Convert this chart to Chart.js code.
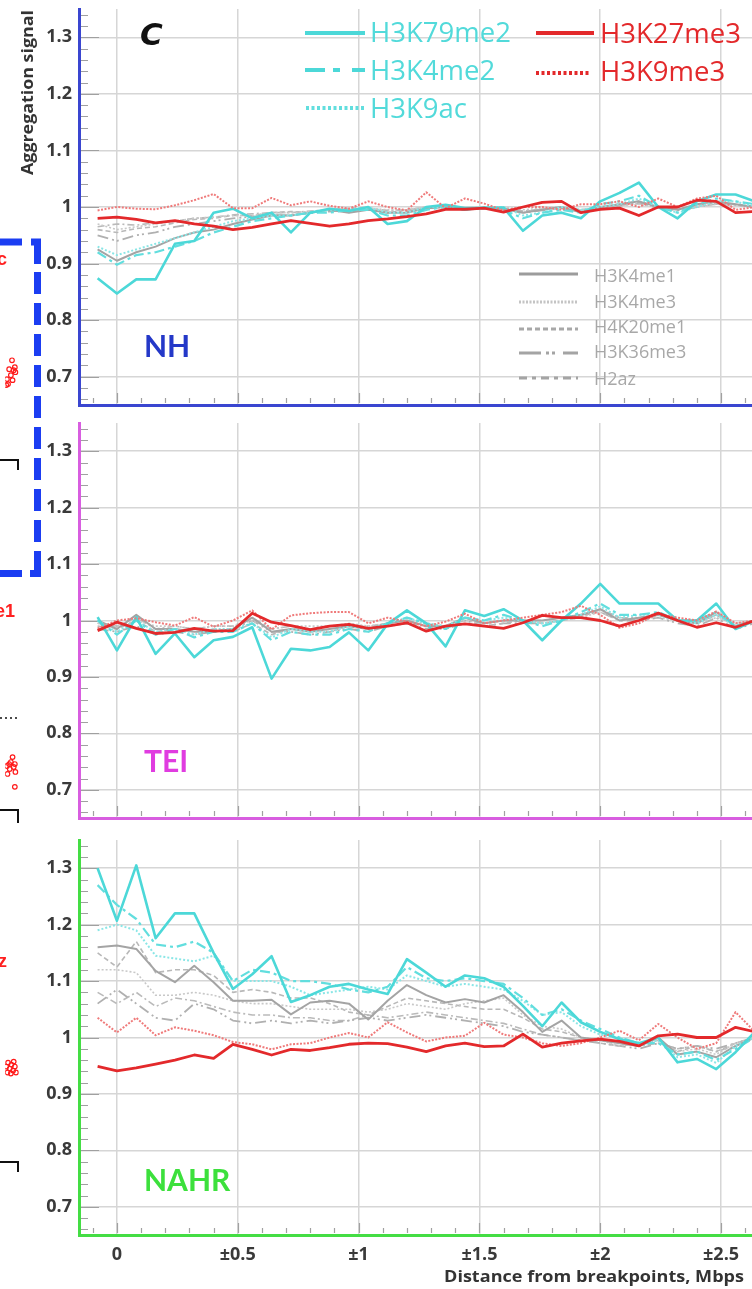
<!DOCTYPE html>
<html>
<head>
<meta charset="utf-8">
<title>Aggregation signal around breakpoints</title>
<script src="https://cdn.jsdelivr.net/npm/chart.js@4.4.1/dist/chart.umd.min.js"></script>
<style>
  html, body { margin: 0; padding: 0; background: #fff; }
  #page { position: relative; width: 752px; height: 1289px; overflow: hidden; background: #fff; }
  canvas { position: absolute; left: 0; }
  #overlay { position: absolute; left: 0; top: 0; }
</style>
</head>
<body>
<div id="page">
  <canvas id="nh" width="752" height="410" style="top:0px"></canvas>
  <canvas id="tei" width="752" height="412" style="top:410px"></canvas>
  <canvas id="nahr" width="752" height="467" style="top:822px"></canvas>
  <canvas id="side" width="24" height="1289" style="top:0px"></canvas>

  <svg id="overlay" width="752" height="1289" xmlns="http://www.w3.org/2000/svg" font-family="'Open Sans', Lato, sans-serif">
    <!-- axis titles and panel letter -->
    <text transform="translate(33,92.5) rotate(-90)" text-anchor="middle" font-weight="700" font-size="16" fill="#333"
          textLength="165" lengthAdjust="spacingAndGlyphs">Aggregation signal</text>
    <text x="744" y="1282" text-anchor="end" font-weight="700" font-size="16.5" fill="#333"
          textLength="300" lengthAdjust="spacingAndGlyphs">Distance from breakpoints, Mbps</text>
    <text x="140" y="45" font-family="'DejaVu Sans', sans-serif" font-style="oblique" font-weight="700" font-size="31" fill="#111">C</text>

    <!-- panel names -->
    <text x="144" y="357" font-family="Lato, sans-serif" font-weight="700" font-size="30" fill="#2438c8">NH</text>
    <text x="144" y="772" font-family="Lato, sans-serif" font-weight="700" font-size="30" fill="#e03ce0">TEI</text>
    <text x="144" y="1191" font-family="Lato, sans-serif" font-weight="700" font-size="30" fill="#3ce03c">NAHR</text>

    <!-- coloured legend -->
    <line x1="305" y1="33" x2="365" y2="33" stroke="#4cd8d8" stroke-width="4"/>
    <text x="370" y="42" font-size="27.5" fill="#52dada">H3K79me2</text>
    <line x1="305" y1="70" x2="365" y2="70" stroke="#4cd8d8" stroke-width="4" stroke-dasharray="20 8 7 12"/>
    <text x="370" y="80" font-size="27.5" fill="#52dada">H3K4me2</text>
    <line x1="306" y1="108" x2="365" y2="108" stroke="#62dede" stroke-width="4" stroke-dasharray="3 2.5"/>
    <text x="370" y="118" font-size="27.5" fill="#52dada">H3K9ac</text>
    <line x1="536" y1="33" x2="594" y2="33" stroke="#e3292b" stroke-width="4"/>
    <text x="600" y="43" font-size="27.5" fill="#e3292b">H3K27me3</text>
    <line x1="536" y1="73" x2="590" y2="73" stroke="#e3292b" stroke-width="4" stroke-dasharray="3 2.5"/>
    <text x="600" y="81" font-size="27.5" fill="#e3292b">H3K9me3</text>

    <!-- grey legend -->
    <line x1="519" y1="274" x2="578" y2="274" stroke="#9c9c9c" stroke-width="3"/>
    <text x="594" y="282" font-size="18" fill="#a8a8a8">H3K4me1</text>
    <line x1="519" y1="302" x2="578" y2="302" stroke="#c4c4c4" stroke-width="3" stroke-dasharray="2 1.5"/>
    <text x="594" y="308" font-size="18" fill="#a8a8a8">H3K4me3</text>
    <line x1="519" y1="329" x2="578" y2="329" stroke="#a8a8a8" stroke-width="3" stroke-dasharray="5 3"/>
    <text x="594" y="333" font-size="18" fill="#a8a8a8">H4K20me1</text>
    <line x1="519" y1="353" x2="578" y2="353" stroke="#a4a4a4" stroke-width="3" stroke-dasharray="22 5 3 3 3 8"/>
    <text x="594" y="358" font-size="18" fill="#a8a8a8">H3K36me3</text>
    <line x1="519" y1="378" x2="578" y2="378" stroke="#a4a4a4" stroke-width="3" stroke-dasharray="8 5 4 5"/>
    <text x="594" y="385" font-size="18" fill="#a8a8a8">H2az</text>

    <!-- neighbouring panel edge: dashed frame, labels and brackets -->
    <g fill="none" stroke="#1b3df2" stroke-width="7">
      <path d="M0 242 H22"/>
      <path d="M31 242 H37.5 V264"/>
      <line x1="37.5" y1="272" x2="37.5" y2="544" stroke-dasharray="22 9"/>
      <path d="M37.5 551 V573.5 H30"/>
      <path d="M22 573.5 H0"/>
    </g>
    <g font-family="'Liberation Sans', Arial, sans-serif" font-weight="700" font-size="18" fill="#ff2020">
      <text x="7" y="265" text-anchor="end">H3K9ac</text>
      <text x="15" y="617" text-anchor="end">H3K4me1</text>
      <text x="7" y="967" text-anchor="end">H2az</text>
    </g>
    <g fill="none" stroke="#111" stroke-width="2">
      <path d="M0 460 H18 V470"/>
      <path d="M0 810 H18 V823"/>
      <path d="M0 1162 H18 V1172"/>
      <line x1="0" y1="718" x2="18" y2="718" stroke-dasharray="2 3" stroke-width="1.5"/>
    </g>
  </svg>
</div>

<script>
// Distance from the breakpoint (Mbp), one bin every 80 kb
const distances = [-0.08, 0, 0.08, 0.16, 0.24, 0.32, 0.40, 0.48, 0.56, 0.64, 0.72, 0.80, 0.88, 0.96, 1.04, 1.12, 1.20, 1.28,
  1.36, 1.44, 1.52, 1.60, 1.68, 1.76, 1.84, 1.92, 2.00, 2.08, 2.16, 2.24, 2.32, 2.40, 2.48, 2.56, 2.64];

const yTickValues = [0.7, 0.8, 0.9, 1, 1.1, 1.2, 1.3];
const xTickValues = [0, 0.5, 1, 1.5, 2, 2.5];
const xTickLabels = ['0', '±0.5', '±1', '±1.5', '±2', '±2.5'];

// ---- NH ----
const nhH3K79me2 = [0.874,0.847,0.872,0.872,0.935,0.94,0.99,0.997,0.98,0.99, 0.955,0.99,0.997,0.993,1.0,0.97,0.975,1.0,1.004,0.998, 0.998,0.999,0.958,0.985,0.99,0.98,1.01,1.025,1.043,1.0, 0.98,1.01,1.022,1.022,1.01];
const nhH3K4me2  = [0.92,0.898,0.915,0.92,0.93,0.94,0.955,0.965,0.975,0.98, 0.985,0.99,0.99,0.995,0.995,0.985,0.985,0.995,1.0,0.995, 1.0,0.995,0.98,0.99,0.995,0.99,1.005,1.01,1.02,1.0, 0.99,1.005,1.015,1.01,1.005];
const nhH3K9ac   = [0.93,0.915,0.925,0.935,0.945,0.955,0.965,0.975,0.98,0.985, 0.985,0.99,0.995,0.995,1.0,0.99,0.99,1.0,1.0,0.995, 1.0,1.0,0.985,0.99,1.0,0.995,1.0,1.005,1.015,1.0, 0.99,1.0,1.01,1.01,1.0];
const nhH3K27me3 = [0.98,0.982,0.978,0.972,0.976,0.97,0.966,0.96,0.964,0.97, 0.976,0.971,0.966,0.97,0.976,0.979,0.983,0.988,0.996,0.996, 0.998,0.991,1.0,1.008,1.01,0.99,0.996,0.998,0.985,1.0, 1.0,1.012,1.01,0.99,0.992];
const nhH3K9me3  = [0.994,1.0,0.997,0.996,1.003,1.012,1.023,0.998,0.998,1.016, 1.003,1.01,1.002,0.997,1.01,1.0,0.994,1.026,0.998,1.015, 1.006,0.994,1.0,1.0,0.995,1.005,1.005,1.01,1.0,1.015, 1.0,1.015,1.02,0.995,1.0];
const nhH3K4me1  = [0.925,0.905,0.92,0.93,0.945,0.955,0.96,0.97,0.978,0.985, 0.985,0.99,0.995,0.99,0.995,0.99,0.99,0.998,1.0,0.995, 0.998,0.997,0.99,0.995,1.0,0.99,1.0,1.005,1.01,1.0, 0.995,1.005,1.01,1.005,1.0];
const nhH3K4me3  = [0.97,0.96,0.965,0.97,0.975,0.98,0.982,0.985,0.985,0.99, 0.99,0.992,0.995,0.995,0.998,0.995,0.995,1.0,1.0,0.998, 1.0,1.0,0.995,0.998,1.0,0.995,1.0,1.003,1.005,1.0, 0.998,1.0,1.005,1.003,1.0];
const nhH4K20me1 = [0.96,0.955,0.962,0.965,0.972,0.978,0.98,0.985,0.985,0.99, 0.992,0.99,0.995,0.998,0.998,0.99,0.995,1.0,1.0,0.996, 1.0,0.998,0.992,0.996,1.0,0.995,1.0,1.005,1.01,1.0, 0.996,1.002,1.008,1.004,1.0];
const nhH3K36me3 = [0.95,0.94,0.95,0.955,0.965,0.97,0.975,0.98,0.983,0.986, 0.985,0.99,0.992,0.995,0.996,0.99,0.992,0.998,1.0,0.995, 0.998,0.996,0.99,0.994,0.998,0.992,0.998,1.002,1.008,0.998, 0.994,1.0,1.006,1.004,1.0];
const nhH2az     = [0.965,0.97,0.968,0.972,0.975,0.98,0.982,0.986,0.988,0.99, 0.99,0.993,0.995,0.996,0.998,0.994,0.995,0.999,1.0,0.997, 0.999,0.998,0.993,0.996,0.999,0.994,0.999,1.003,1.006,0.999, 0.996,1.001,1.005,1.003,1.0];

// ---- TEI ----
const teiH3K79me2 = [1.006,0.947,1.006,0.941,0.977,0.935,0.965,0.971,0.988,0.897, 0.95,0.947,0.953,0.979,0.947,0.994,1.018,0.995,0.954,1.018, 1.008,1.02,1.0,0.965,1.0,1.03,1.065,1.03,1.03,1.03, 1.0,1.0,1.03,0.985,1.0];
const teiH3K4me2  = [1.0,0.975,1.0,0.975,0.985,0.97,0.98,0.98,0.995,0.965, 0.98,0.975,0.975,0.985,0.98,0.995,1.005,0.995,0.985,1.005, 1.0,1.01,1.0,0.99,1.0,1.015,1.03,1.01,1.01,1.015, 1.0,1.0,1.015,0.99,1.0];
const teiH3K9ac   = [1.0,0.98,1.0,0.98,0.985,0.975,0.985,0.985,0.995,0.97, 0.985,0.98,0.98,0.99,0.985,0.995,1.005,0.995,0.99,1.005, 1.0,1.005,1.0,0.995,1.0,1.01,1.025,1.005,1.01,1.01, 1.0,0.995,1.01,0.99,1.0];
const teiH3K27me3 = [0.982,0.997,0.986,0.977,0.979,0.986,0.981,0.982,1.013,0.997, 0.991,0.984,0.99,0.993,0.986,0.99,0.996,0.981,0.99,0.994, 0.99,0.986,0.996,1.009,1.005,1.005,1.0,0.99,1.0,1.013, 1.0,0.988,0.996,0.988,1.0];
const teiH3K9me3  = [0.986,1.0,1.004,0.997,0.991,1.006,0.989,1.0,1.018,0.984, 1.009,1.013,1.015,1.015,0.995,1.005,0.998,0.99,0.998,1.012, 0.995,1.0,1.005,1.01,1.015,1.026,1.01,0.987,0.995,1.012, 1.005,1.0,1.016,0.995,1.0];
const teiH3K4me1  = [1.0,0.985,1.01,0.985,0.985,0.98,0.98,0.985,1.005,0.98, 0.985,0.98,0.985,0.99,0.985,0.995,1.0,0.99,0.99,1.005, 0.995,1.0,1.0,1.0,1.005,1.01,1.02,1.0,1.005,1.01, 1.0,0.995,1.015,0.99,1.0];
const teiH3K4me3  = [0.995,0.99,1.0,0.99,0.99,0.985,0.99,0.99,1.0,0.985, 0.99,0.99,0.99,0.995,0.99,0.995,1.0,0.995,0.99,1.0, 0.995,1.0,1.0,0.995,1.0,1.005,1.015,1.0,1.005,1.005, 1.0,0.995,1.005,0.995,1.0];
const teiH4K20me1 = [0.99,0.985,1.0,0.98,0.985,0.98,0.985,0.98,0.995,0.975, 0.985,0.985,0.98,0.99,0.985,0.99,0.995,0.99,0.985,0.995, 0.99,0.995,1.0,0.995,1.0,1.005,1.02,1.005,1.0,1.01, 1.0,0.995,1.01,0.99,1.0];
const teiH3K36me3 = [0.985,0.98,0.99,0.975,0.98,0.975,0.98,0.985,1.0,0.98, 0.98,0.975,0.98,0.985,0.98,0.99,0.995,0.985,0.985,1.0, 0.99,0.995,0.995,0.995,1.0,1.01,1.015,1.0,1.0,1.005, 0.995,0.99,1.005,0.985,0.995];
const teiH2az     = [0.995,0.99,1.005,0.985,0.99,0.985,0.99,0.99,1.005,0.985, 0.99,0.985,0.99,0.99,0.99,0.995,1.0,0.99,0.99,1.0, 0.995,1.0,1.0,1.0,1.005,1.01,1.02,1.005,1.005,1.01, 1.0,0.995,1.01,0.99,1.0];

// ---- NAHR ----
const nahrH3K79me2 = [1.30,1.207,1.305,1.176,1.22,1.22,1.15,1.086,1.112,1.144, 1.063,1.075,1.09,1.095,1.085,1.077,1.139,1.115,1.09,1.11, 1.105,1.09,1.056,1.02,1.062,1.027,1.01,0.997,0.99,1.0, 0.956,0.962,0.944,0.974,1.01];
const nahrH3K4me2  = [1.27,1.235,1.21,1.165,1.16,1.17,1.15,1.10,1.12,1.115, 1.10,1.10,1.095,1.085,1.08,1.09,1.125,1.105,1.10,1.105, 1.10,1.095,1.07,1.04,1.05,1.03,1.015,1.0,0.99,0.99, 0.97,0.975,0.96,0.98,1.0];
const nahrH3K9ac   = [1.19,1.20,1.19,1.145,1.14,1.135,1.145,1.10,1.10,1.10, 1.09,1.075,1.08,1.085,1.09,1.085,1.11,1.10,1.09,1.095, 1.09,1.085,1.065,1.04,1.045,1.02,1.005,1.0,0.985,0.995, 0.965,0.97,0.955,0.985,1.0];
const nahrH3K27me3 = [0.949,0.941,0.946,0.953,0.96,0.969,0.963,0.988,0.979,0.969, 0.979,0.977,0.982,0.988,0.99,0.989,0.983,0.975,0.985,0.99, 0.984,0.985,1.006,0.983,0.99,0.994,0.997,0.993,0.985,1.003, 1.006,1.0,1.0,1.018,1.01];
const nahrH3K9me3  = [1.035,1.009,1.035,1.004,1.018,1.012,1.004,0.992,0.988,0.979, 0.988,0.99,1.0,1.008,1.0,1.027,1.009,0.993,1.0,1.003, 1.026,1.005,1.0,0.99,0.985,0.99,1.0,1.012,0.995,1.024, 1.0,0.98,0.99,1.045,1.01];
const nahrH3K4me1  = [1.16,1.163,1.157,1.118,1.098,1.127,1.098,1.065,1.065,1.067, 1.041,1.062,1.065,1.06,1.032,1.065,1.093,1.075,1.062,1.068, 1.062,1.075,1.045,1.01,1.03,1.0,0.995,0.99,0.985,1.0, 0.97,0.975,0.965,0.985,1.0];
const nahrH3K4me3  = [1.12,1.12,1.115,1.075,1.075,1.08,1.075,1.065,1.06,1.06, 1.055,1.05,1.05,1.05,1.045,1.05,1.06,1.055,1.05,1.06, 1.065,1.07,1.04,1.02,1.015,1.0,0.995,0.985,0.99,0.995, 0.975,0.98,0.97,0.99,1.0];
const nahrH4K20me1 = [1.15,1.125,1.17,1.115,1.12,1.12,1.11,1.08,1.085,1.08, 1.07,1.07,1.06,1.045,1.04,1.055,1.07,1.065,1.06,1.055, 1.05,1.05,1.035,1.015,1.01,1.0,0.99,0.985,0.99,0.995, 0.975,0.985,0.975,0.99,1.0];
const nahrH3K36me3 = [1.06,1.085,1.06,1.035,1.03,1.06,1.05,1.03,1.025,1.03, 1.025,1.03,1.025,1.03,1.035,1.03,1.035,1.04,1.035,1.03, 1.025,1.02,1.01,1.005,1.0,0.995,0.99,0.985,0.98,0.99, 0.98,0.985,0.98,0.99,1.0];
const nahrH2az     = [1.08,1.06,1.08,1.055,1.07,1.065,1.055,1.045,1.04,1.04, 1.035,1.035,1.03,1.03,1.04,1.035,1.04,1.045,1.04,1.035, 1.03,1.025,1.015,1.005,1.0,0.995,0.995,0.99,0.985,0.99, 0.98,0.985,0.975,0.985,1.0];

// Scatter points of the neighbouring panel, visible along the left edge
const sideDotsX = [12,7,15,18,3,10,13,5,2,17, 13,10,7,3,17,18,15,8,4,17, 2,5,8,11,14,17,19,4,10,15];
const sideDotsY = [358,367,368,370,377,373,378,382,383,365, 758,763,765,767,765,773,768,770,775,788, 1070,1066,1072,1068,1074,1070,1076,1076,1077,1065];

// Line style per histone mark (first entries are drawn on top)
const markOrder = ['H3K27me3', 'H3K9me3', 'H3K79me2', 'H3K4me2', 'H3K9ac', 'H3K4me1', 'H3K4me3', 'H4K20me1', 'H3K36me3', 'H2az'];
const markStyles = {
  H3K27me3: { color: '#e3292b', width: 2.8, dash: [] },
  H3K9me3:  { color: '#ef7a7a', width: 2.0, dash: [2, 1.5] },
  H3K79me2: { color: '#4cd8d8', width: 2.6, dash: [] },
  H3K4me2:  { color: '#62dede', width: 2.2, dash: [10, 4, 3, 4] },
  H3K9ac:   { color: '#8ae6e6', width: 2.0, dash: [2, 2] },
  H3K4me1:  { color: '#a4a4a4', width: 2.0, dash: [] },
  H3K4me3:  { color: '#c8c8c8', width: 1.6, dash: [2, 2] },
  H4K20me1: { color: '#b8b8b8', width: 1.6, dash: [5, 3] },
  H3K36me3: { color: '#b0b0b0', width: 1.8, dash: [11, 4, 2, 3, 2, 4] },
  H2az:     { color: '#bababa', width: 1.6, dash: [7, 3, 2, 3] }
};

const panels = [
  { id: 'nh', border: '#3a46d0', padTop: 9, axisHeight: 5, showX: false,
    values: { H3K79me2: nhH3K79me2, H3K4me2: nhH3K4me2, H3K9ac: nhH3K9ac, H3K27me3: nhH3K27me3, H3K9me3: nhH3K9me3,
              H3K4me1: nhH3K4me1, H3K4me3: nhH3K4me3, H4K20me1: nhH4K20me1, H3K36me3: nhH3K36me3, H2az: nhH2az } },
  { id: 'tei', border: '#d85ee0', padTop: 13, axisHeight: 4, showX: false,
    values: { H3K79me2: teiH3K79me2, H3K4me2: teiH3K4me2, H3K9ac: teiH3K9ac, H3K27me3: teiH3K27me3, H3K9me3: teiH3K9me3,
              H3K4me1: teiH3K4me1, H3K4me3: teiH3K4me3, H4K20me1: teiH4K20me1, H3K36me3: teiH3K36me3, H2az: teiH2az } },
  { id: 'nahr', border: '#44dd44', padTop: 18, axisHeight: 54, showX: true,
    values: { H3K79me2: nahrH3K79me2, H3K4me2: nahrH3K4me2, H3K9ac: nahrH3K9ac, H3K27me3: nahrH3K27me3, H3K9me3: nahrH3K9me3,
              H3K4me1: nahrH3K4me1, H3K4me3: nahrH3K4me3, H4K20me1: nahrH4K20me1, H3K36me3: nahrH3K36me3, H2az: nahrH2az } }
];

// Short minor tick marks drawn on the inside of both axes
const minorTicks = {
  id: 'minorTicks',
  beforeDatasetsDraw(chart) {
    const { ctx, chartArea: a, scales: { x, y } } = chart;
    ctx.save();
    ctx.strokeStyle = '#a0a0a0';
    ctx.lineWidth = 1.2;
    ctx.beginPath();
    for (let k = 33; k <= 67; k++) {
      const py = Math.round(y.getPixelForValue(k / 50)) + 0.5;
      const len = k % 5 === 0 ? 20 : 9;
      ctx.moveTo(a.left + 2, py);
      ctx.lineTo(a.left + len, py);
    }
    for (let k = -1; k <= 26; k++) {
      const px = Math.round(x.getPixelForValue(k / 10)) + 0.5;
      const len = k % 5 === 0 ? 12 : 7;
      ctx.moveTo(px, a.bottom - 2);
      ctx.lineTo(px, a.bottom - len);
    }
    ctx.stroke();
    ctx.restore();
  }
};

const labelFont = { family: "'Open Sans'", weight: 'bold', size: 18 };

panels.forEach(p => {
  const datasets = markOrder.map(mark => ({
    label: mark,
    data: distances.map((d, i) => ({ x: d, y: p.values[mark][i] })),
    borderColor: markStyles[mark].color,
    borderWidth: markStyles[mark].width,
    borderDash: markStyles[mark].dash,
    borderJoinStyle: 'round',
    pointRadius: 0,
    fill: false,
    tension: 0
  }));

  new Chart(document.getElementById(p.id), {
    type: 'line',
    data: { datasets },
    options: {
      responsive: false,
      animation: false,
      devicePixelRatio: 1,
      events: [],
      layout: { padding: { top: p.padTop, left: 0, right: 0, bottom: 0 } },
      plugins: { legend: { display: false }, tooltip: { enabled: false } },
      scales: {
        x: {
          type: 'linear', min: -0.157, max: 2.628,
          afterBuildTicks: s => { s.ticks = xTickValues.map(v => ({ value: v })); },
          afterFit: s => { s.height = p.axisHeight; s.paddingLeft = 0; s.paddingRight = 0; },
          grid: { color: '#d6d6d6', lineWidth: 1.5, drawTicks: false },
          border: { color: p.border, width: 3 },
          ticks: {
            display: p.showX, padding: 9, color: '#3a3a3a', font: labelFont, maxRotation: 0,
            callback: v => xTickLabels[xTickValues.indexOf(v)]
          }
        },
        y: {
          type: 'linear', min: 0.65, max: 1.35,
          afterBuildTicks: s => { s.ticks = yTickValues.map(v => ({ value: v })); },
          afterFit: s => { s.width = 79; s.paddingTop = 0; s.paddingBottom = 0; },
          grid: { color: '#d6d6d6', lineWidth: 1.5, drawTicks: false },
          border: { color: p.border, width: 3 },
          ticks: { padding: 7, color: '#3a3a3a', font: labelFont, callback: v => (v === 1 ? '1' : v.toFixed(1)) }
        }
      }
    },
    plugins: [minorTicks]
  });
});

// Open red circles of the adjacent scatter panel
new Chart(document.getElementById('side'), {
  type: 'scatter',
  data: { datasets: [{ data: sideDotsX.map((v, i) => ({ x: v, y: sideDotsY[i] })),
    pointRadius: 2.3, borderColor: '#ff1a1a', borderWidth: 1.2, backgroundColor: 'rgba(0,0,0,0)' }] },
  options: {
    responsive: false, animation: false, devicePixelRatio: 1, events: [],
    layout: { padding: 0 },
    plugins: { legend: { display: false }, tooltip: { enabled: false } },
    scales: {
      x: { display: false, min: 0, max: 24 },
      y: { display: false, min: 0, max: 1289, reverse: true }
    }
  }
});
</script>
</body>
</html>
